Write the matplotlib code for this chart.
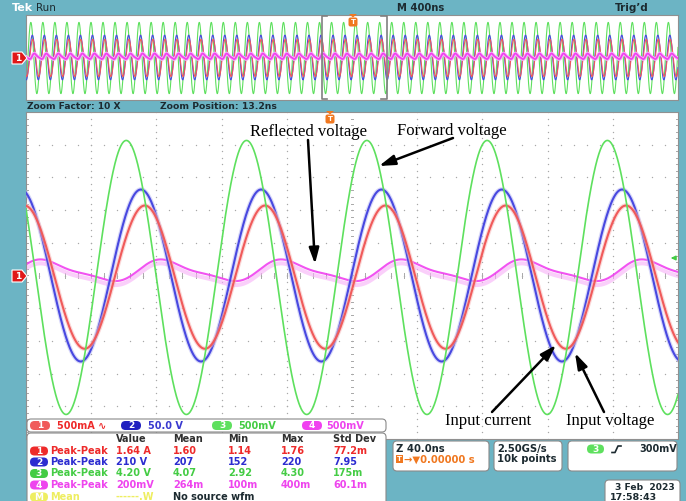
import numpy as np
import matplotlib
matplotlib.use("Agg")
import matplotlib.pyplot as plt
from matplotlib.patches import FancyBboxPatch, Rectangle, Polygon

W, H = 686, 501
fig = plt.figure(figsize=(W / 100, H / 100), dpi=100)
TEAL = "#6cb4c4"
fig.patch.set_facecolor(TEAL)

channels = ["1", "2", "3", "4"]
ch_colors = ["#f05a5a", "#4848e0", "#5ee05e", "#f040f0"]
ch_halo = ["#f8b8b8", "#b8b8f4", "#b8f4b8", "#f8b0f8"]
ch_text_colors = ["#ee2a2a", "#3a3ad0", "#44cc44", "#ee44ee"]
ch_scale_text = ["500mA \u223f", "50.0 V", "500mV", "500mV"]
# sine fits of each trace (divisions, ns)
amp_div = [2.19, 2.63, 4.19, 0.30]        # half peak-to-peak on screen
offset_div = [-0.05, 0.0, -0.06, 0.12]    # centre level on screen
peak_time_ns = [33.7, 31.3, 22.3, 47.0]   # time of a maximum
harm2_div = [0.0, 0.0, 0.0, 0.08]         # 2nd harmonic (reflected wave)
period_ns = 73.8                          # 13.56 MHz
main_center_ns = 13.2
main_ns_per_div = 40.0
overview_ns_per_div = 400.0

meas_rows = ["1", "2", "3", "4", "M"]
meas_names = ["Peak-Peak", "Peak-Peak", "Peak-Peak", "Peak-Peak", "Mean"]
meas_value = ["1.64 A", "210 V", "4.20 V", "200mV", "------.W"]
meas_mean = ["1.60", "207", "4.07", "264m", "No source wfm"]
meas_min = ["1.14", "152", "2.92", "100m", ""]
meas_max = ["1.76", "220", "4.30", "400m", ""]
meas_std = ["77.2m", "7.95", "175m", "60.1m", ""]
meas_colors = ["#ee2a2a", "#2c2cd0", "#44cc44", "#ee44ee", "#eeee60"]
meas_headers = ["Value", "Mean", "Min", "Max", "Std Dev"]


def px_axes(x0, y0, x1, y1, z=1):
    return fig.add_axes([x0 / W, 1 - y1 / H, (x1 - x0) / W, (y1 - y0) / H], zorder=z)


def trace(i, t):
    w = 2 * np.pi / period_ns
    ph = t - peak_time_ns[i]
    y = amp_div[i] * np.cos(w * ph) + harm2_div[i] * np.cos(2 * w * ph + 1.2)
    return y + offset_div[i]


# ---------------- background / chrome layer ----------------
bg = px_axes(0, 0, W, H, z=0)
bg.set_xlim(0, W); bg.set_ylim(H, 0); bg.axis("off")

FONT = "DejaVu Sans"
DARK = "#1c2a30"
bg.text(12, 8, "Tek", color="white", fontsize=8, fontweight="bold", va="center", family=FONT)
bg.text(36, 8, "Run", color=DARK, fontsize=7.5, va="center", family=FONT)
bg.text(397, 8, "M 400ns", color=DARK, fontsize=7.2, fontweight="bold", va="center", family=FONT)
bg.text(615, 8, "Trig\u2019d", color=DARK, fontsize=7.5, fontweight="bold", va="center", family=FONT)
bg.text(27, 106, "Zoom Factor: 10 X", color=DARK, fontsize=6.6, fontweight="bold", va="center", family=FONT)
bg.text(160, 106, "Zoom Position: 13.2ns", color=DARK, fontsize=6.7, fontweight="bold", va="center", family=FONT)

# ---------------- overview window ----------------
ovw = px_axes(26, 15, 678, 100, z=1)
ovw.set_facecolor("white")
span = 5 * overview_ns_per_div
t_ov = np.linspace(-span, span, 8000)
ovw.set_xlim(-span, span); ovw.set_ylim(-5, 5)
for i, z in zip([2, 1, 0, 3], [2, 3, 4, 5]):
    if i == 3:
        ovw.plot(t_ov, trace(i, t_ov), color=ch_halo[i], lw=2.6, zorder=z)
        ovw.plot(t_ov, trace(i, t_ov), color=ch_colors[i], lw=1.2, zorder=z)
    else:
        ovw.plot(t_ov, trace(i, t_ov), color=ch_colors[i], lw=0.8, zorder=z)
ovw.set_xticks([]); ovw.set_yticks([])
for s in ovw.spines.values():
    s.set_color("#909090"); s.set_linewidth(0.8)
# zoom bracket
zl, zr = main_center_ns - 5 * main_ns_per_div, main_center_ns + 5 * main_ns_per_div
for xb, d in [(zl, 1), (zr, -1)]:
    ovw.plot([xb + d * 35, xb, xb, xb + d * 35], [4.85, 4.85, -4.85, -4.85],
             color="#808080", lw=1.2, zorder=6, clip_on=False)

# ---------------- main (zoom) window ----------------
ax = px_axes(26, 112, 678, 439, z=1)
ax.set_facecolor("white")
x0m, x1m = main_center_ns - 5 * main_ns_per_div, main_center_ns + 5 * main_ns_per_div
ax.set_xlim(x0m, x1m); ax.set_ylim(-5, 5)
ax.set_xticks([]); ax.set_yticks([])
for s in ax.spines.values():
    s.set_color("#909090"); s.set_linewidth(0.8)
# graticule dots
gcol = "#a8a8a8"
xs_fine = np.arange(x0m, x1m + 0.01, main_ns_per_div / 5)
ys_fine = np.arange(-5, 5.001, 0.2)
for k in range(-4, 5):
    if k == 0:
        continue
    ax.scatter(xs_fine, np.full_like(xs_fine, k), s=1.0, color=gcol, lw=0, zorder=0.5)
for k in range(-4, 5):
    xv = main_center_ns + k * main_ns_per_div
    if k == 0:
        continue
    ax.scatter(np.full_like(ys_fine, xv), ys_fine, s=1.0, color=gcol, lw=0, zorder=0.5)
# centre crosshair with ticks
ax.scatter(xs_fine, np.zeros_like(xs_fine), s=1.0, color=gcol, lw=0, zorder=0.5)
for xv in xs_fine:
    ax.plot([xv, xv], [-0.07, 0.07], color=gcol, lw=0.7, zorder=0.5)
for yv in ys_fine:
    ax.plot([main_center_ns - 0.9, main_center_ns + 0.9], [yv, yv], color=gcol, lw=0.7, zorder=0.5)
# frame ticks
for yv in ys_fine:
    ax.plot([x0m, x0m + 1.2], [yv, yv], color=gcol, lw=0.7, zorder=0.5)
    ax.plot([x1m - 1.2, x1m], [yv, yv], color=gcol, lw=0.7, zorder=0.5)

t_m = np.linspace(x0m, x1m, 3000)
for i, z in zip([3, 1, 0, 2], [2, 3, 4, 5]):
    y = trace(i, t_m)
    if i == 3:
        ax.plot(t_m, y - 0.1, color=ch_halo[i], lw=3.0, alpha=0.6, zorder=z)
        ax.plot(t_m, y + 0.02, color=ch_colors[i], lw=1.5, alpha=0.9, zorder=z)
    elif i == 2:
        ax.plot(t_m, y, color=ch_colors[i], lw=1.2, zorder=z)
    else:
        ax.plot(t_m, y, color=ch_halo[i], lw=3.2, alpha=0.55, zorder=z)
        ax.plot(t_m, y, color=ch_colors[i], lw=1.5, zorder=z)

# ---------------- overlay (markers, annotations, readouts) ----------------
ov = px_axes(0, 0, W, H, z=10)
ov.set_xlim(0, W); ov.set_ylim(H, 0); ov.axis("off")
ov.patch.set_alpha(0)


def ch1_marker(yc):
    ov.add_patch(Polygon([[12, yc - 6], [22, yc - 6], [27, yc], [22, yc + 6], [12, yc + 6]],
                         closed=True, fc="#e01818", ec="white", lw=0.8))
    ov.text(18, yc + 0.5, "1", color="white", fontsize=6.5, fontweight="bold",
            ha="center", va="center", family=FONT)


ch1_marker(58)
ch1_marker(276)


def trig_marker(xc, ytop):
    ov.add_patch(Polygon([[xc - 4, ytop], [xc + 4, ytop], [xc, ytop + 3.5]], closed=True,
                         fc="#f07820", ec="none"))
    ov.add_patch(FancyBboxPatch((xc - 4.5, ytop + 3.5), 9, 9, boxstyle="round,pad=0,rounding_size=2",
                                fc="#f07820", ec="none"))
    ov.text(xc, ytop + 8.2, "T", color="white", fontsize=5, fontweight="bold",
            ha="center", va="center", family=FONT)


trig_marker(353, 14)
trig_marker(330, 111)
# ch3 trigger level arrow on right edge
ov.annotate("", xy=(668, 258), xytext=(677, 258),
            arrowprops=dict(arrowstyle="-|>", color="#44cc44", lw=1.2, mutation_scale=6))

# annotations
SERIF = "Liberation Serif"
ann_fs = 12
ov.text(250, 132, "Reflected voltage", fontsize=ann_fs, family=SERIF, va="center")
ov.text(397, 131, "Forward voltage", fontsize=ann_fs, family=SERIF, va="center")
ov.text(445, 421, "Input current", fontsize=ann_fs, family=SERIF, va="center")
ov.text(566, 421, "Input voltage", fontsize=ann_fs, family=SERIF, va="center")
ap = dict(arrowstyle="-|>,head_length=0.95,head_width=0.3", color="black", lw=1.8,
          shrinkA=0, shrinkB=0)
ov.annotate("", xy=(315, 264), xytext=(308, 140), arrowprops=ap)
ov.annotate("", xy=(379, 166), xytext=(453, 138), arrowprops=ap)
ov.annotate("", xy=(556, 345), xytext=(492, 412), arrowprops=ap)
ov.annotate("", xy=(575, 353), xytext=(604, 412), arrowprops=ap)

# channel scale strip
ov.add_patch(FancyBboxPatch((27, 419), 359, 13, boxstyle="round,pad=0,rounding_size=4",
                            fc="white", ec="#8a8a8a", lw=0.8))
pill_x = [30, 121, 212, 302]
text_x = [57, 148, 238, 326]
for i in range(4):
    ov.add_patch(FancyBboxPatch((pill_x[i], 421), 20, 9, boxstyle="round,pad=0,rounding_size=4.5",
                                fc=ch_colors[i] if i != 1 else "#2020c0", ec="none"))
    ov.text(pill_x[i] + 10, 425.8, channels[i], color="white", fontsize=6.5, fontweight="bold",
            ha="center", va="center", family=FONT)
    ov.text(text_x[i], 425.8, ch_scale_text[i], color=ch_text_colors[i],
            fontsize=7, fontweight="bold", va="center", family=FONT)

# measurement table
ov.add_patch(FancyBboxPatch((27, 433), 359, 80, boxstyle="round,pad=0,rounding_size=4",
                            fc="white", ec="#8a8a8a", lw=0.8))
col_x = [116, 173, 228, 281, 333]
for cx, hd in zip(col_x, meas_headers):
    ov.text(cx, 439, hd, color="#303030", fontsize=7, fontweight="bold", va="center", family=FONT)
row_y = [451, 462, 473.5, 485, 497]
for r in range(5):
    c = meas_colors[r]
    ov.add_patch(FancyBboxPatch((30, row_y[r] - 4.5), 18, 9, boxstyle="round,pad=0,rounding_size=4.5",
                                fc=c, ec="none"))
    ov.text(39, row_y[r] + 0.3, meas_rows[r], color="white", fontsize=6.5, fontweight="bold",
            ha="center", va="center", family=FONT)
    ov.text(50, row_y[r], meas_names[r], color=c, fontsize=7, fontweight="bold", va="center", family=FONT)
    vals = [meas_value[r], meas_mean[r], meas_min[r], meas_max[r], meas_std[r]]
    for j, (cx, v) in enumerate(zip(col_x, vals)):
        col = c
        if r == 4 and j == 1:
            col = DARK
        ov.text(cx, row_y[r], v, color=col, fontsize=7, fontweight="bold", va="center", family=FONT)


# right info boxes
def info_box(x0, y0, x1, y1):
    ov.add_patch(FancyBboxPatch((x0, y0), x1 - x0, y1 - y0, boxstyle="round,pad=0,rounding_size=4",
                                fc="white", ec="#8a8a8a", lw=0.8))


info_box(393, 441, 489, 471)
info_box(494, 441, 562, 471)
info_box(568, 441, 677, 471)
info_box(605, 480, 680, 505)
ov.text(396, 449, "Z 40.0ns", color=DARK, fontsize=7.2, fontweight="bold", va="center", family=FONT)
ov.add_patch(Rectangle((396, 455), 7, 8, fc="#f07820", ec="none"))
ov.text(399.5, 459.3, "T", color="white", fontsize=5, fontweight="bold", ha="center", va="center", family=FONT)
ov.text(404, 459.5, "\u2192\u25bc0.00000 s", color="#f07820", fontsize=7.2, fontweight="bold",
        va="center", family=FONT)
ov.text(497, 449, "2.50GS/s", color=DARK, fontsize=7.2, fontweight="bold", va="center", family=FONT)
ov.text(497, 459.5, "10k points", color=DARK, fontsize=7.2, fontweight="bold", va="center", family=FONT)
ov.add_patch(FancyBboxPatch((587, 444.5), 17, 9, boxstyle="round,pad=0,rounding_size=4.5",
                            fc=ch_colors[2], ec="none"))
ov.text(595.5, 449.3, "3", color="white", fontsize=6.5, fontweight="bold", ha="center", va="center", family=FONT)
ov.plot([612, 615, 618, 621], [452.5, 452.5, 446, 446], color=DARK, lw=1.2)
ov.text(639, 449, "300mV", color=DARK, fontsize=6.9, fontweight="bold", va="center", family=FONT)
ov.text(615, 487, "3 Feb  2023", color=DARK, fontsize=6.6, fontweight="bold", va="center", family=FONT)
ov.text(610, 497.5, "17:58:43", color=DARK, fontsize=6.8, fontweight="bold", va="center", family=FONT)

fig.savefig("out.png", dpi=100, facecolor=fig.get_facecolor())
